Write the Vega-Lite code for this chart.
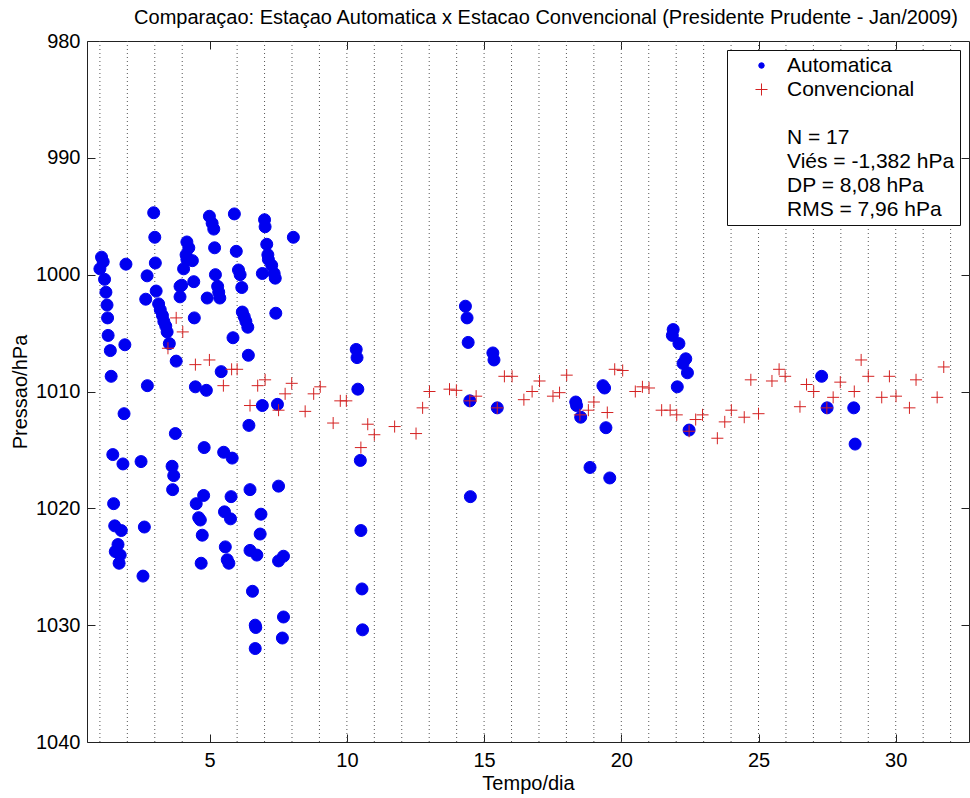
{
  "$schema": "https://vega.github.io/schema/vega-lite/v6.json",
  "width": 882,
  "height": 701,
  "autosize": {"type": "none"},
  "padding": {"left": 87, "top": 41, "right": 1, "bottom": 56},
  "background": "white",
  "title": {
    "text": "Comparaçao: Estaçao Automatica x Estacao Convencional (Presidente Prudente - Jan/2009)",
    "font": "Liberation Sans", "fontSize": 20, "fontWeight": "normal", "color": "black",
    "anchor": "middle", "offset": 3, "dx": 18
  },
  "config": {
    "view": {"stroke": "#222", "strokeWidth": 1},
    "axis": {
      "labelFont": "Liberation Sans", "labelFontSize": 20, "labelColor": "black",
      "titleFont": "Liberation Sans", "titleFontSize": 20, "titleFontWeight": "normal", "titleColor": "black",
      "domain": false, "grid": false, "tickColor": "#222", "tickSize": -8, "tickWidth": 1
    },
    "legend": {
      "orient": "none", "legendX": 640, "legendY": 9,
      "padding": 5, "strokeColor": "#111", "fillColor": "white",
      "labelFont": "Liberation Sans", "labelFontSize": 21, "labelColor": "black", "labelLimit": 400,
      "symbolSize": 30, "symbolOffset": 19, "labelOffset": 15, "rowPadding": 2, "symbolStrokeWidth": 1
    }
  },
  "datasets": {
    "grid": [{"g":1},{"g":2},{"g":3},{"g":4},{"g":6},{"g":7},{"g":8},{"g":9},{"g":10},{"g":11},{"g":12},{"g":13},{"g":14},{"g":15},{"g":16},{"g":17},{"g":18},{"g":19},{"g":20},{"g":21},{"g":22},{"g":23},{"g":24},{"g":25},{"g":26},{"g":27},{"g":28},{"g":29},{"g":30},{"g":31},{"g":32}],
    "obs": [
      {"s":"Automatica","d":1.06,"p":998.5},{"s":"Automatica","d":1.12,"p":998.9},{"s":"Automatica","d":1.0,"p":999.5},
      {"s":"Automatica","d":1.17,"p":1000.4},{"s":"Automatica","d":1.22,"p":1001.5},{"s":"Automatica","d":1.26,"p":1002.6},
      {"s":"Automatica","d":1.28,"p":1003.7},{"s":"Automatica","d":1.30,"p":1005.2},{"s":"Automatica","d":1.38,"p":1006.5},
      {"s":"Automatica","d":1.41,"p":1008.7},{"s":"Automatica","d":1.47,"p":1015.4},{"s":"Automatica","d":1.50,"p":1019.6},
      {"s":"Automatica","d":1.54,"p":1021.5},{"s":"Automatica","d":1.56,"p":1023.7},{"s":"Automatica","d":1.66,"p":1023.1},
      {"s":"Automatica","d":1.70,"p":1024.7},{"s":"Automatica","d":1.74,"p":1024.0},{"s":"Automatica","d":1.78,"p":1021.9},
      {"s":"Automatica","d":1.84,"p":1016.2},{"s":"Automatica","d":1.88,"p":1011.9},{"s":"Automatica","d":1.91,"p":1006.0},
      {"s":"Automatica","d":1.95,"p":999.1},{"s":"Automatica","d":2.50,"p":1016.0},{"s":"Automatica","d":2.57,"p":1025.8},
      {"s":"Automatica","d":2.62,"p":1021.6},{"s":"Automatica","d":2.67,"p":1002.1},{"s":"Automatica","d":2.72,"p":1000.1},
      {"s":"Automatica","d":2.73,"p":1009.5},{"s":"Automatica","d":2.96,"p":994.7},{"s":"Automatica","d":3.00,"p":996.8},
      {"s":"Automatica","d":3.02,"p":999.0},{"s":"Automatica","d":3.05,"p":1001.4},{"s":"Automatica","d":3.14,"p":1002.5},
      {"s":"Automatica","d":3.20,"p":1003.0},{"s":"Automatica","d":3.28,"p":1003.5},{"s":"Automatica","d":3.33,"p":1004.0},
      {"s":"Automatica","d":3.40,"p":1004.4},{"s":"Automatica","d":3.45,"p":1004.9},{"s":"Automatica","d":3.53,"p":1005.9},
      {"s":"Automatica","d":3.63,"p":1016.4},{"s":"Automatica","d":3.65,"p":1018.4},{"s":"Automatica","d":3.69,"p":1017.2},
      {"s":"Automatica","d":3.75,"p":1013.6},{"s":"Automatica","d":3.78,"p":1007.4},{"s":"Automatica","d":3.92,"p":1001.0},
      {"s":"Automatica","d":3.98,"p":1000.9},{"s":"Automatica","d":3.92,"p":1001.9},{"s":"Automatica","d":4.05,"p":999.5},
      {"s":"Automatica","d":4.14,"p":998.3},{"s":"Automatica","d":4.17,"p":997.2},{"s":"Automatica","d":4.17,"p":998.7},
      {"s":"Automatica","d":4.24,"p":997.7},{"s":"Automatica","d":4.37,"p":998.8},{"s":"Automatica","d":4.42,"p":1000.6},
      {"s":"Automatica","d":4.44,"p":1003.7},{"s":"Automatica","d":4.48,"p":1009.6},{"s":"Automatica","d":4.51,"p":1019.6},
      {"s":"Automatica","d":4.60,"p":1020.8},{"s":"Automatica","d":4.66,"p":1021.0},{"s":"Automatica","d":4.69,"p":1024.7},
      {"s":"Automatica","d":4.73,"p":1022.3},{"s":"Automatica","d":4.78,"p":1018.9},{"s":"Automatica","d":4.80,"p":1014.8},
      {"s":"Automatica","d":4.88,"p":1009.9},{"s":"Automatica","d":4.91,"p":1002.0},{"s":"Automatica","d":4.99,"p":995.0},
      {"s":"Automatica","d":5.09,"p":995.6},{"s":"Automatica","d":5.15,"p":996.1},{"s":"Automatica","d":5.18,"p":997.7},
      {"s":"Automatica","d":5.21,"p":1000.0},{"s":"Automatica","d":5.29,"p":1001.0},{"s":"Automatica","d":5.33,"p":1001.5},
      {"s":"Automatica","d":5.37,"p":1002.0},{"s":"Automatica","d":5.42,"p":1008.3},{"s":"Automatica","d":5.51,"p":1015.2},
      {"s":"Automatica","d":5.54,"p":1020.3},{"s":"Automatica","d":5.57,"p":1023.3},{"s":"Automatica","d":5.64,"p":1024.4},
      {"s":"Automatica","d":5.70,"p":1024.7},{"s":"Automatica","d":5.76,"p":1020.9},{"s":"Automatica","d":5.78,"p":1019.0},
      {"s":"Automatica","d":5.82,"p":1015.7},{"s":"Automatica","d":5.85,"p":1005.4},{"s":"Automatica","d":5.90,"p":994.8},
      {"s":"Automatica","d":5.97,"p":998.0},{"s":"Automatica","d":6.05,"p":999.6},{"s":"Automatica","d":6.11,"p":1000.0},
      {"s":"Automatica","d":6.17,"p":1001.1},{"s":"Automatica","d":6.19,"p":1003.2},{"s":"Automatica","d":6.26,"p":1003.6},
      {"s":"Automatica","d":6.32,"p":1004.0},{"s":"Automatica","d":6.39,"p":1004.5},{"s":"Automatica","d":6.41,"p":1006.9},
      {"s":"Automatica","d":6.43,"p":1012.9},{"s":"Automatica","d":6.47,"p":1018.4},{"s":"Automatica","d":6.47,"p":1023.6},
      {"s":"Automatica","d":6.56,"p":1027.1},{"s":"Automatica","d":6.66,"p":1030.0},{"s":"Automatica","d":6.68,"p":1030.2},
      {"s":"Automatica","d":6.66,"p":1032.0},{"s":"Automatica","d":6.72,"p":1024.0},{"s":"Automatica","d":6.84,"p":1022.2},
      {"s":"Automatica","d":6.87,"p":1020.5},{"s":"Automatica","d":6.92,"p":999.9},{"s":"Automatica","d":6.92,"p":1011.2},
      {"s":"Automatica","d":7.00,"p":995.3},{"s":"Automatica","d":7.02,"p":995.9},{"s":"Automatica","d":7.08,"p":997.4},
      {"s":"Automatica","d":7.12,"p":998.3},{"s":"Automatica","d":7.14,"p":998.7},{"s":"Automatica","d":7.26,"p":999.2},
      {"s":"Automatica","d":7.35,"p":999.9},{"s":"Automatica","d":7.39,"p":1000.3},{"s":"Automatica","d":7.41,"p":1003.3},
      {"s":"Automatica","d":7.47,"p":1011.1},{"s":"Automatica","d":7.51,"p":1018.1},{"s":"Automatica","d":7.51,"p":1024.5},
      {"s":"Automatica","d":7.65,"p":1031.1},{"s":"Automatica","d":7.69,"p":1024.1},{"s":"Automatica","d":7.69,"p":1029.3},
      {"s":"Automatica","d":8.05,"p":996.8},
      {"s":"Automatica","d":10.34,"p":1006.4},{"s":"Automatica","d":10.37,"p":1007.1},{"s":"Automatica","d":10.40,"p":1009.8},
      {"s":"Automatica","d":10.49,"p":1015.9},{"s":"Automatica","d":10.51,"p":1021.9},{"s":"Automatica","d":10.55,"p":1026.9},
      {"s":"Automatica","d":10.57,"p":1030.4},
      {"s":"Automatica","d":14.32,"p":1002.7},{"s":"Automatica","d":14.38,"p":1003.7},{"s":"Automatica","d":14.42,"p":1005.8},
      {"s":"Automatica","d":14.48,"p":1010.8},{"s":"Automatica","d":14.50,"p":1019.0},
      {"s":"Automatica","d":15.32,"p":1006.7},{"s":"Automatica","d":15.36,"p":1007.3},{"s":"Automatica","d":15.48,"p":1011.4},
      {"s":"Automatica","d":18.34,"p":1010.9},{"s":"Automatica","d":18.37,"p":1011.2},{"s":"Automatica","d":18.52,"p":1012.2},
      {"s":"Automatica","d":18.86,"p":1016.5},
      {"s":"Automatica","d":19.33,"p":1009.5},{"s":"Automatica","d":19.39,"p":1009.7},{"s":"Automatica","d":19.44,"p":1013.1},
      {"s":"Automatica","d":19.58,"p":1017.4},
      {"s":"Automatica","d":21.86,"p":1005.2},{"s":"Automatica","d":21.89,"p":1004.7},{"s":"Automatica","d":22.04,"p":1009.6},
      {"s":"Automatica","d":22.10,"p":1005.9},{"s":"Automatica","d":22.25,"p":1007.6},{"s":"Automatica","d":22.35,"p":1007.2},
      {"s":"Automatica","d":22.41,"p":1008.4},{"s":"Automatica","d":22.47,"p":1013.3},
      {"s":"Automatica","d":27.30,"p":1008.7},{"s":"Automatica","d":27.50,"p":1011.4},
      {"s":"Automatica","d":28.47,"p":1011.4},{"s":"Automatica","d":28.52,"p":1014.5},
      {"s":"Convencional","d":3.48,"p":1006.3},{"s":"Convencional","d":3.78,"p":1003.7},{"s":"Convencional","d":4.02,"p":1004.9},
      {"s":"Convencional","d":4.48,"p":1007.7},{"s":"Convencional","d":4.99,"p":1007.3},{"s":"Convencional","d":5.50,"p":1009.5},
      {"s":"Convencional","d":5.80,"p":1008.1},{"s":"Convencional","d":6.00,"p":1008.1},{"s":"Convencional","d":6.47,"p":1011.2},
      {"s":"Convencional","d":6.75,"p":1009.5},{"s":"Convencional","d":7.02,"p":1009.0},{"s":"Convencional","d":7.51,"p":1011.6},
      {"s":"Convencional","d":7.75,"p":1010.2},{"s":"Convencional","d":7.99,"p":1009.3},{"s":"Convencional","d":8.48,"p":1011.7},
      {"s":"Convencional","d":8.79,"p":1010.2},{"s":"Convencional","d":9.03,"p":1009.6},{"s":"Convencional","d":9.50,"p":1012.7},
      {"s":"Convencional","d":9.76,"p":1010.8},{"s":"Convencional","d":9.98,"p":1010.8},{"s":"Convencional","d":10.51,"p":1014.8},
      {"s":"Convencional","d":10.76,"p":1012.8},{"s":"Convencional","d":11.00,"p":1013.7},{"s":"Convencional","d":11.74,"p":1013.0},
      {"s":"Convencional","d":12.52,"p":1013.6},{"s":"Convencional","d":12.76,"p":1011.4},{"s":"Convencional","d":13.01,"p":1010.0},
      {"s":"Convencional","d":13.74,"p":1009.8},{"s":"Convencional","d":13.99,"p":1009.9},{"s":"Convencional","d":14.48,"p":1010.8},
      {"s":"Convencional","d":14.71,"p":1010.4},{"s":"Convencional","d":15.48,"p":1011.4},{"s":"Convencional","d":15.74,"p":1008.7},
      {"s":"Convencional","d":16.02,"p":1008.7},{"s":"Convencional","d":16.45,"p":1010.7},{"s":"Convencional","d":16.75,"p":1010.0},
      {"s":"Convencional","d":17.02,"p":1009.1},{"s":"Convencional","d":17.51,"p":1010.4},{"s":"Convencional","d":17.75,"p":1010.1},
      {"s":"Convencional","d":18.01,"p":1008.6},{"s":"Convencional","d":18.49,"p":1012.0},{"s":"Convencional","d":18.80,"p":1011.6},
      {"s":"Convencional","d":19.00,"p":1010.9},{"s":"Convencional","d":19.49,"p":1011.8},{"s":"Convencional","d":19.76,"p":1008.1},
      {"s":"Convencional","d":20.05,"p":1008.2},{"s":"Convencional","d":20.51,"p":1010.0},{"s":"Convencional","d":20.77,"p":1009.6},
      {"s":"Convencional","d":21.01,"p":1009.7},{"s":"Convencional","d":21.47,"p":1011.6},{"s":"Convencional","d":21.78,"p":1011.6},
      {"s":"Convencional","d":22.02,"p":1012.0},{"s":"Convencional","d":22.47,"p":1013.4},{"s":"Convencional","d":22.71,"p":1012.4},
      {"s":"Convencional","d":22.96,"p":1012.0},{"s":"Convencional","d":23.50,"p":1014.0},{"s":"Convencional","d":23.77,"p":1012.6},
      {"s":"Convencional","d":24.01,"p":1011.6},{"s":"Convencional","d":24.48,"p":1012.2},{"s":"Convencional","d":24.72,"p":1009.0},
      {"s":"Convencional","d":25.00,"p":1011.9},{"s":"Convencional","d":25.49,"p":1009.1},{"s":"Convencional","d":25.75,"p":1008.1},
      {"s":"Convencional","d":25.97,"p":1008.7},{"s":"Convencional","d":26.51,"p":1011.3},{"s":"Convencional","d":26.75,"p":1009.4},
      {"s":"Convencional","d":27.01,"p":1010.0},{"s":"Convencional","d":27.49,"p":1011.4},{"s":"Convencional","d":27.72,"p":1010.5},
      {"s":"Convencional","d":27.98,"p":1009.2},{"s":"Convencional","d":28.49,"p":1010.0},{"s":"Convencional","d":28.74,"p":1007.3},
      {"s":"Convencional","d":29.00,"p":1008.7},{"s":"Convencional","d":29.49,"p":1010.5},{"s":"Convencional","d":29.77,"p":1008.7},
      {"s":"Convencional","d":30.01,"p":1010.4},{"s":"Convencional","d":30.50,"p":1011.4},{"s":"Convencional","d":30.74,"p":1009.0},
      {"s":"Convencional","d":31.51,"p":1010.5},{"s":"Convencional","d":31.75,"p":1007.9}
    ]
  },
  "resolve": {"axis": {"x": "independent", "y": "independent"}},
  "layer": [
    {
      "data": {"name": "grid"},
      "mark": {"type": "rule", "color": "#555", "strokeWidth": 1, "strokeDash": [1, 3]},
      "encoding": {
        "x": {"field": "g", "type": "quantitative",
              "scale": {"domain": [0.53, 32.67], "nice": false, "zero": false},
              "axis": {"orient": "top", "values": [5, 10, 15, 20, 25, 30], "labels": false, "title": null}},
        "y": {"datum": 980, "type": "quantitative",
              "axis": {"orient": "right", "values": [990, 1000, 1010, 1020, 1030], "labels": false, "title": null}},
        "y2": {"datum": 1040}
      }
    },
    {
      "data": {"name": "obs"},
      "mark": {"type": "point", "strokeWidth": 1, "opacity": 1},
      "encoding": {
        "x": {"field": "d", "type": "quantitative",
              "scale": {"domain": [0.53, 32.67], "nice": false, "zero": false},
              "axis": {"orient": "bottom", "values": [5, 10, 15, 20, 25, 30], "title": "Tempo/dia", "labelPadding": 16, "titlePadding": 3}},
        "y": {"field": "p", "type": "quantitative",
              "scale": {"domain": [980, 1040], "reverse": true, "nice": false, "zero": false},
              "axis": {"orient": "left", "values": [980, 990, 1000, 1010, 1020, 1030, 1040], "format": "d", "title": "Pressao/hPa", "labelPadding": 15, "titlePadding": 5}},
        "size": {"field": "s", "type": "nominal", "legend": null,
                 "scale": {"domain": ["Automatica", "Convencional"], "range": [144, 30]}},
        "shape": {"field": "s", "type": "nominal", "title": null,
                  "scale": {"domain": ["Automatica", "Convencional", " ", "N = 17", "Viés = -1,382 hPa", "DP = 8,08 hPa", "RMS = 7,96 hPa"],
                            "range": ["circle", "M-2.2,0H2.2M0,-2.2V2.2", "circle", "circle", "circle", "circle", "circle"]}},
        "fill": {"field": "s", "type": "nominal", "title": null,
                 "scale": {"domain": ["Automatica", "Convencional", " ", "N = 17", "Viés = -1,382 hPa", "DP = 8,08 hPa", "RMS = 7,96 hPa"],
                           "range": ["#0000f0", "transparent", "transparent", "transparent", "transparent", "transparent", "transparent"]}},
        "stroke": {"field": "s", "type": "nominal", "title": null,
                   "scale": {"domain": ["Automatica", "Convencional", " ", "N = 17", "Viés = -1,382 hPa", "DP = 8,08 hPa", "RMS = 7,96 hPa"],
                             "range": ["#0000f0", "#d42222", "transparent", "transparent", "transparent", "transparent", "transparent"]}}
      }
    }
  ]
}
